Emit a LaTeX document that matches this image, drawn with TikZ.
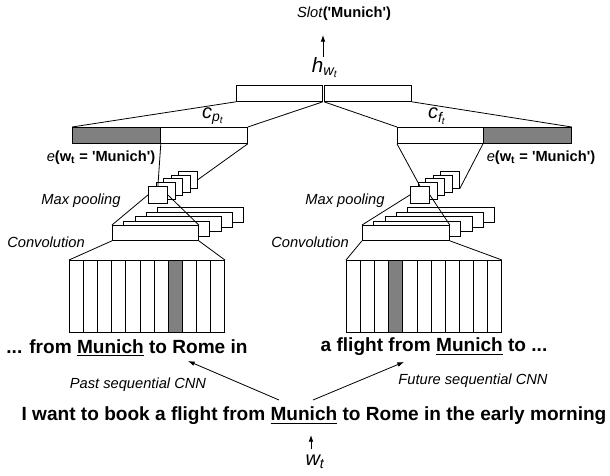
\documentclass[tikz,border=0pt]{standalone}
\usepackage{fontspec}
\setmainfont{Liberation Sans}
\usetikzlibrary{arrows.meta}

\tikzset{
  cell/.style 2 args={draw, fill=white, inner sep=0pt, anchor=north west,
    minimum width=#1*0.75pt, minimum height=#2*0.75pt},
  lbl/.style={font=\fontsize{11}{13}\selectfont\itshape, inner sep=0pt},
  sent/.style={font=\fontsize{14.3}{16}\selectfont\bfseries, inner sep=0pt},
  arr/.style={-{Latex[length=5pt,width=3.5pt]}},
}

\begin{document}
\begin{tikzpicture}[x=0.75pt,y=-0.75pt,line width=0.6pt]
\useasboundingbox (0,0) rectangle (610,475);

\node[lbl] (slot) at (344,14) {Slot\textup{\textbf{(\textquotesingle Munich\textquotesingle)}}};
\node[font=\fontsize{15.5}{15}\selectfont\itshape, inner sep=0pt] (hwt) at (325,68) {h\textsubscript{w\textsubscript{t}}};
\coordinate (hout) at (323,57);
\coordinate (slotin) at (323,35);
\draw[arr] (hout) -- (slotin);

\node[cell={86}{16}] (topl) at (236,85) {};
\node[cell={87}{16}] (topr) at (324,85) {};

\node[cell={88}{16}, fill=gray] (lgray) at (72,127) {};
\node[cell={87}{16}] (lwhite) at (160,127) {};
\node[cell={86}{16}] (rwhite) at (397,127) {};
\node[cell={88}{16}, fill=gray] (rgray) at (483,127) {};
\node[font=\fontsize{15}{15}\selectfont\itshape, inner sep=0pt] (cpt) at (213,116) {c\textsubscript{p\textsubscript{t}}};
\node[font=\fontsize{15}{15}\selectfont\itshape, inner sep=0pt] (cft) at (437,116) {c\textsubscript{f\textsubscript{t}}};
\node[lbl] (eleft) at (101,158) {e\textup{\textbf{(w\textsubscript{t} = \textquotesingle Munich\textquotesingle)}}};
\node[lbl] (eright) at (541,158) {e\textup{\textbf{(w\textsubscript{t} = \textquotesingle Munich\textquotesingle)}}};

\foreach \i in {4,...,0} {
  \node[cell={19}{17}] (lp\i) at ({148+7.5*\i},{186-3.8*\i}) {};
  \node[cell={19}{17}] (rp\i) at ({410+7.5*\i},{186-3.8*\i}) {};
}
\foreach \i in {4,...,0} {
  \node[cell={86}{15}] (lc\i) at ({112+11.25*\i},{225-4.5*\i}) {};
  \node[cell={87}{15}] (rc\i) at ({362+11.25*\i},{225-4.5*\i}) {};
}
\foreach \f [count=\i from 0] in {white,white,white,white,white,white,white,gray,white,white,white}
  \node[cell={14.1}{72}, fill=\f] (lm\i) at ({69+14.1*\i},260) {};
\foreach \f [count=\i from 0] in {white,white,white,gray,white,white,white,white,white,white,white}
  \node[cell={14.1}{72}, fill=\f] (rm\i) at ({346+14.1*\i},260) {};

\node[lbl] (lpool) at (81,201) {Max pooling};
\node[lbl] (rpool) at (345,201) {Max pooling};
\node[lbl] (lconv) at (46,242) {Convolution};
\node[lbl] (rconv) at (310,242) {Convolution};

\draw (topl.south west) -- (lgray.north west);
\draw (topl.south east) -- (lwhite.north east);
\draw (topr.south west) -- (rwhite.north west);
\draw (topr.south east) -- (rgray.north east);
\draw (lgray.south east) -- (lp0.north);
\draw (lwhite.south east) -- (lp4.east);
\draw (rwhite.south west) -- (rp0.north);
\draw (rgray.south west) -- (rp4.south east);
\draw (lp0.west) -- (lc0.north west);
\draw (lp0.east) -- (lc0.north east);
\draw (rp0.west) -- (rc0.north west);
\draw (rp0.east) -- (rc0.north east);
\draw (lc0.south west) -- (lm0.north west);
\draw (lc0.south east) -- (lm10.north east);
\draw (rc0.south west) -- (rm0.north west);
\draw (rc0.south east) -- (rm10.north east);

\node[sent] (past) at (127,348) {... from \underline{Munich} to Rome in};
\node[sent] (future) at (434,347) {a flight from \underline{Munich} to ...};
\node[lbl] (pastlbl) at (138,385) {Past sequential CNN};
\node[lbl] (futlbl) at (473,381) {Future sequential CNN};
\node[sent] (main) at (314,416) {I want to book a flight from \underline{Munich} to Rome in the early morning};
\node[font=\fontsize{15}{15}\selectfont\itshape, inner sep=0pt] (wt) at (315,462) {w\textsubscript{t}};

\coordinate (pastfrom) at (279,400);
\coordinate (pastto) at (188,361);
\coordinate (futfrom) at (313,400);
\coordinate (futto) at (404,362);
\coordinate (wtfrom) at (311,449);
\coordinate (wtto) at (311,435);
\draw[arr] (pastfrom) -- (pastto);
\draw[arr] (futfrom) -- (futto);
\draw[arr] (wtfrom) -- (wtto);
\end{tikzpicture}
\end{document}
